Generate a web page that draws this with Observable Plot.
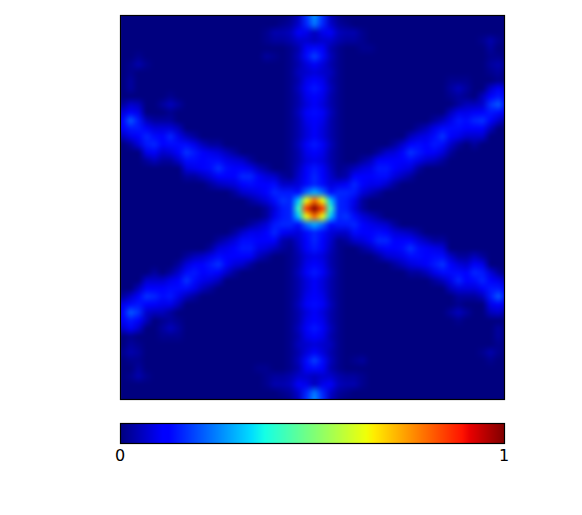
<!DOCTYPE html>
<html>
<head>
<meta charset="utf-8">
<script src="https://cdn.jsdelivr.net/npm/d3@7"></script>
<script src="https://cdn.jsdelivr.net/npm/@observablehq/plot@0.6"></script>
<style>
html,body{margin:0;padding:0;background:#fff}
svg{display:block}
</style>
</head>
<body>
<div id="chart"></div>
<script>
const peakIntensity = 75;
const heatRows = [
[0,0,0,0,0, 0,0,0,0,0, 0,0,0,0,0, 0,0,0,0,0, 0,1,4,13, 20, 13,4,1,0, 0,0,0,0,0, 0,0,0,0,0, 0,0,0,0,0, 0,0,0,0,0],
[0,0,0,0,0, 0,0,0,0,0, 0,0,0,0,0, 0,0,0,0,0, 1,2,5,12, 18, 12,5,2,1, 0,0,0,0,0, 0,0,0,0,0, 0,0,0,0,0, 0,0,0,0,0],
[0,0,0,0,0, 0,0,0,0,0, 0,0,0,0,0, 0,0,0,1,3, 3,4,8,7, 4, 7,8,4,3, 3,1,0,0,0, 0,0,0,0,0, 0,0,0,0,0, 0,0,0,0,0],
[0,0,0,0,0, 0,0,0,0,0, 0,0,0,0,0, 0,0,0,1,2, 2,3,5,5, 4, 5,5,3,2, 2,1,0,0,0, 0,0,0,0,0, 0,0,0,0,0, 0,1,3,1,0],
[0,0,0,0,0, 0,0,0,0,0, 0,0,0,0,0, 0,0,0,0,0, 0,1,3,8, 10, 8,3,1,0, 0,1,1,0,0, 0,0,0,0,0, 0,0,0,0,0, 0,0,2,0,0],
[0,0,1,0,0, 0,0,0,0,0, 0,0,0,0,0, 0,0,0,2,1, 0,1,4,10, 14, 10,4,1,0, 0,0,0,0,0, 0,0,0,0,0, 0,0,0,0,0, 0,0,1,1,0],
[0,1,3,1,0, 0,0,0,0,0, 0,0,0,0,0, 0,0,0,0,0, 0,1,3,6, 8, 6,3,1,0, 0,0,0,0,0, 0,0,0,0,0, 0,0,0,0,0, 0,0,2,3,1],
[0,1,0,0,0, 0,0,0,0,0, 0,0,0,0,0, 0,0,0,0,0, 0,1,4,5, 6, 5,4,1,0, 0,0,0,0,0, 0,0,0,0,0, 0,0,0,0,0, 0,0,1,2,0],
[0,2,0,0,0, 0,0,0,0,0, 0,0,0,0,0, 0,0,0,0,0, 0,1,3,7, 9, 7,3,1,0, 0,0,0,0,0, 0,0,0,0,0, 0,0,1,1,1, 0,0,0,1,0],
[0,2,0,0,0, 0,0,0,0,0, 0,0,0,0,0, 0,0,0,0,0, 0,1,4,8, 11, 8,4,1,0, 0,0,0,0,0, 0,0,0,0,0, 0,0,2,4,2, 0,0,5,8,5],
[0,0,0,0,0, 0,1,0,0,0, 0,0,0,0,0, 0,0,0,0,0, 0,1,3,7, 9, 7,3,1,0, 0,0,0,0,0, 0,0,0,0,0, 0,0,1,2,1, 0,4,9,11,8],
[2,5,4,0,0, 2,4,2,0,0, 0,0,0,0,0, 0,0,0,0,0, 0,1,3,6, 8, 6,3,1,0, 0,0,0,0,0, 0,0,0,0,0, 0,0,0,2,4, 4,5,13,16,9],
[6,9,7,0,0, 0,1,0,0,0, 0,0,0,0,0, 0,0,0,0,0, 0,1,4,8, 10, 8,4,1,0, 0,0,0,0,0, 0,0,0,0,0, 0,0,4,7,7, 8,9,11,10,7],
[9,16,11,4,2, 2,2,0,0,0, 0,0,0,0,0, 0,0,0,0,0, 0,1,3,7, 9, 7,3,1,0, 0,0,0,0,0, 0,0,0,0,0, 2,4,7,11,10, 12,13,9,5,2],
[8,11,11,8,6, 6,6,4,0,0, 0,0,0,0,0, 0,0,0,0,0, 0,1,3,6, 8, 6,3,1,0, 0,0,0,0,0, 0,0,0,2,4, 7,10,10,10,9, 9,9,4,0,0],
[4,7,9,12,10, 9,12,7,4,2, 0,0,0,0,0, 0,0,0,0,0, 0,1,3,6, 8, 6,3,1,0, 0,0,0,0,0, 0,0,4,6,7, 10,13,9,7,5, 5,5,0,0,0],
[0,2,6,11,12, 9,10,10,10,7, 4,2,2,0,0, 0,0,0,0,0, 0,1,4,8, 11, 8,4,1,0, 0,0,0,0,0, 2,5,9,10,9, 11,10,5,2,0, 2,0,0,0,0],
[0,0,0,7,8, 5,6,9,13,11, 8,7,6,4,2, 0,0,0,0,0, 0,1,3,7, 9, 7,3,1,0, 0,0,0,2,5, 6,9,13,11,9, 8,6,2,0,0, 0,0,0,0,0],
[0,0,0,2,4, 2,2,5,10,10, 9,10,10,7,6, 5,2,0,0,0, 0,1,3,6, 7, 6,3,1,0, 0,2,4,8,9, 9,9,10,7,5, 4,2,0,0,0, 0,0,0,0,0],
[0,0,0,0,0, 0,0,0,6,7, 8,10,13,10,9, 9,7,4,2,0, 0,1,4,8, 11, 8,4,1,2, 4,6,7,11,11, 9,7,6,2,0, 0,0,0,0,0, 0,0,0,0,0],
[0,0,0,0,0, 0,0,0,2,2, 4,6,9,9,9, 12,12,8,6,5, 2,1,5,9, 12, 9,5,2,3, 9,9,9,10,10, 6,4,2,0,0, 0,0,0,0,0, 0,0,0,0,0],
[0,0,0,0,0, 0,0,0,0,0, 0,2,4,5,6, 9,10,9,9,10, 5,5,6,10, 12, 10,6,7,8, 12,9,7,7,5, 2,0,0,0,0, 0,0,0,0,0, 0,0,0,0,0],
[0,0,0,0,0, 0,0,0,0,0, 0,0,0,0,2, 5,6,7,9,12, 11,11,10,17, 22, 17,10,12,12, 11,6,4,2,0, 0,0,0,0,0, 0,0,0,0,0, 0,0,0,0,0],
[0,0,0,0,0, 0,0,0,0,0, 0,0,0,0,0, 0,2,4,6,10, 13,12,24,48, 60, 48,24,12,11, 7,2,0,0,0, 0,0,0,0,0, 0,0,0,0,0, 0,0,0,0,0],
[0,0,0,0,0, 0,0,0,0,0, 0,0,0,0,0, 0,0,0,2,6, 11,12,31,64, 75, 64,31,12,11, 6,2,0,0,0, 0,0,0,0,0, 0,0,0,0,0, 0,0,0,0,0],
[0,0,0,0,0, 0,0,0,0,0, 0,0,0,0,0, 0,0,0,2,7, 11,12,24,48, 60, 48,24,12,13, 10,6,4,2,0, 0,0,0,0,0, 0,0,0,0,0, 0,0,0,0,0],
[0,0,0,0,0, 0,0,0,0,0, 0,0,0,0,0, 0,2,4,6,11, 12,12,10,17, 22, 17,10,11,11, 12,9,7,6,5, 2,0,0,0,0, 0,0,0,0,0, 0,0,0,0,0],
[0,0,0,0,0, 0,0,0,0,0, 0,0,0,0,2, 5,7,7,9,12, 8,7,6,10, 12, 10,6,5,5, 10,9,9,10,9, 6,5,4,2,0, 0,0,0,0,0, 0,0,0,0,0],
[0,0,0,0,0, 0,0,0,0,0, 0,0,2,4,6, 10,10,9,9,9, 3,2,5,9, 12, 9,5,1,2, 5,6,8,12,12, 9,9,9,6,4, 2,2,0,0,0, 0,0,0,0,0],
[0,0,0,0,0, 0,0,0,0,0, 0,2,6,7,9, 11,11,7,6,4, 2,1,4,8, 11, 8,4,1,0, 0,2,4,7,9, 9,10,13,10,8, 7,6,0,0,0, 0,0,0,0,0],
[0,0,0,0,0, 0,0,0,2,4, 5,7,10,9,9, 9,8,4,2,0, 0,1,3,6, 7, 6,3,1,0, 0,0,0,2,5, 6,7,10,10,9, 10,10,5,2,2, 4,2,0,0,0],
[0,0,0,0,0, 0,0,2,6,8, 9,11,13,9,6, 5,2,0,0,0, 0,1,3,7, 9, 7,3,1,0, 0,0,0,0,0, 2,4,6,7,8, 11,13,9,6,5, 8,7,0,0,0],
[0,0,0,0,2, 0,2,5,10,11, 9,10,9,5,2, 0,0,0,0,0, 0,1,4,8, 11, 8,4,1,0, 0,0,0,0,0, 0,0,2,2,4, 7,10,10,10,9, 12,11,6,2,0],
[0,0,0,5,5, 5,7,9,13,10, 7,6,4,0,0, 0,0,0,0,0, 0,1,3,6, 8, 6,3,1,0, 0,0,0,0,0, 0,0,0,0,0, 2,4,7,12,9, 10,12,9,7,4],
[0,0,4,9,9, 9,10,10,10,7, 4,2,0,0,0, 0,0,0,0,0, 0,1,3,6, 8, 6,3,1,0, 0,0,0,0,0, 0,0,0,0,0, 0,0,4,6,6, 6,8,11,11,8],
[2,5,9,13,12, 10,11,7,4,2, 0,0,0,0,0, 0,0,0,0,0, 0,1,3,7, 9, 7,3,1,0, 0,0,0,0,0, 0,0,0,0,0, 0,0,0,2,2, 2,4,11,16,9],
[7,10,11,9,8, 7,7,4,0,0, 0,0,0,0,0, 0,0,0,0,0, 0,1,4,8, 10, 8,4,1,0, 0,0,0,0,0, 0,0,0,0,0, 0,0,0,1,0, 0,0,7,9,6],
[9,16,13,5,4, 4,2,0,0,0, 0,0,0,0,0, 0,0,0,0,0, 0,1,3,6, 8, 6,3,1,0, 0,0,0,0,0, 0,0,0,0,0, 0,0,2,4,2, 0,0,4,5,2],
[8,11,9,4,0, 1,2,1,0,0, 0,0,0,0,0, 0,0,0,0,0, 0,1,3,7, 9, 7,3,1,0, 0,0,0,0,0, 0,0,0,0,0, 0,0,0,1,0, 0,0,0,0,0],
[5,8,5,0,0, 2,4,2,0,0, 0,0,0,0,0, 0,0,0,0,0, 0,1,4,8, 11, 8,4,1,0, 0,0,0,0,0, 0,0,0,0,0, 0,0,0,0,0, 0,0,0,2,0],
[0,1,0,0,0, 1,1,1,0,0, 0,0,0,0,0, 0,0,0,0,0, 0,1,3,7, 9, 7,3,1,0, 0,0,0,0,0, 0,0,0,0,0, 0,0,0,0,0, 0,0,0,2,0],
[0,2,1,0,0, 0,0,0,0,0, 0,0,0,0,0, 0,0,0,0,0, 0,1,4,5, 6, 5,4,1,0, 0,0,0,0,0, 0,0,0,0,0, 0,0,0,0,0, 0,0,0,1,0],
[1,3,2,0,0, 0,0,0,0,0, 0,0,0,0,0, 0,0,0,0,0, 0,1,3,6, 8, 6,3,1,0, 0,0,0,0,0, 0,0,0,0,0, 0,0,0,0,0, 0,1,3,1,0],
[0,1,1,0,0, 0,0,0,0,0, 0,0,0,0,0, 0,0,0,0,0, 0,1,4,10, 14, 10,4,1,0, 1,2,0,0,0, 0,0,0,0,0, 0,0,0,0,0, 0,0,1,0,0],
[0,0,2,0,0, 0,0,0,0,0, 0,0,0,0,0, 0,0,1,1,0, 0,1,3,8, 10, 8,3,1,0, 0,0,0,0,0, 0,0,0,0,0, 0,0,0,0,0, 0,0,0,0,0],
[0,1,3,1,0, 0,0,0,0,0, 0,0,0,0,0, 0,0,0,1,2, 2,3,5,5, 4, 5,5,3,2, 2,1,0,0,0, 0,0,0,0,0, 0,0,0,0,0, 0,0,0,0,0],
[0,0,0,0,0, 0,0,0,0,0, 0,0,0,0,0, 0,0,0,1,3, 3,4,8,7, 4, 7,8,4,3, 3,1,0,0,0, 0,0,0,0,0, 0,0,0,0,0, 0,0,0,0,0],
[0,0,0,0,0, 0,0,0,0,0, 0,0,0,0,0, 0,0,0,0,0, 1,2,5,12, 18, 12,5,2,1, 0,0,0,0,0, 0,0,0,0,0, 0,0,0,0,0, 0,0,0,0,0],
[0,0,0,0,0, 0,0,0,0,0, 0,0,0,0,0, 0,0,0,0,0, 0,1,4,13, 20, 13,4,1,0, 0,0,0,0,0, 0,0,0,0,0, 0,0,0,0,0, 0,0,0,0,0]
];
const colorbarTicks = [0, 1];
const jetStops = [0, 0.11, 0.125, 0.34, 0.375, 0.5, 0.64, 0.66, 0.89, 0.91, 1];
const jetColors = ["#00007f","#0000ff","#0000ff","#00dcff","#14ffe6","#7cff79","#f0ff08","#ffed00","#ff1300","#e80000","#7f0000"];
const jet = {type: "linear", domain: jetStops, range: jetColors, interpolate: "rgb", clamp: true};

const FONT = "DejaVu Sans, sans-serif";
const grid = heatRows.flat().map(v => v / peakIntensity);
const N = heatRows.length;

const heat = Plot.plot({
  width: 582, height: 405,
  marginLeft: 120, marginRight: 78, marginTop: 15, marginBottom: 6,
  x: {domain: [-24.25, 23.75], axis: null},
  y: {domain: [-24.125, 23.875], reverse: true, axis: null},
  color: jet,
  marks: [
    Plot.raster(grid, {width: N, height: N, x1: -24.5, x2: 24.5, y1: -24.5, y2: 24.5, clip: "frame"}),
    Plot.frame({stroke: "#000", strokeWidth: 1.2})
  ]
});
heat.querySelector("image").style.filter = "blur(1.5px)";

const bar = Plot.plot({
  width: 582, height: 110,
  marginLeft: 120, marginRight: 78, marginTop: 18, marginBottom: 72,
  style: {fontFamily: FONT, fontSize: "16px", overflow: "visible"},
  x: {domain: [0, 1], axis: null},
  y: {domain: [0, 1], axis: null},
  color: jet,
  marks: [
    Plot.raster({fill: (x, y) => x, x1: 0, x2: 1, y1: 0, y2: 1, pixelSize: 1}),
    Plot.frame({stroke: "#000", strokeWidth: 1.2}),
    Plot.axisX(colorbarTicks, {anchor: "bottom", tickSize: 0, tickPadding: 6, fontSize: 16, fontFamily: FONT, fill: "#000", tickFormat: d => String(d), label: null, dx: -0.5})
  ]
});

document.getElementById("chart").append(heat, bar);
</script>
</body>
</html>
